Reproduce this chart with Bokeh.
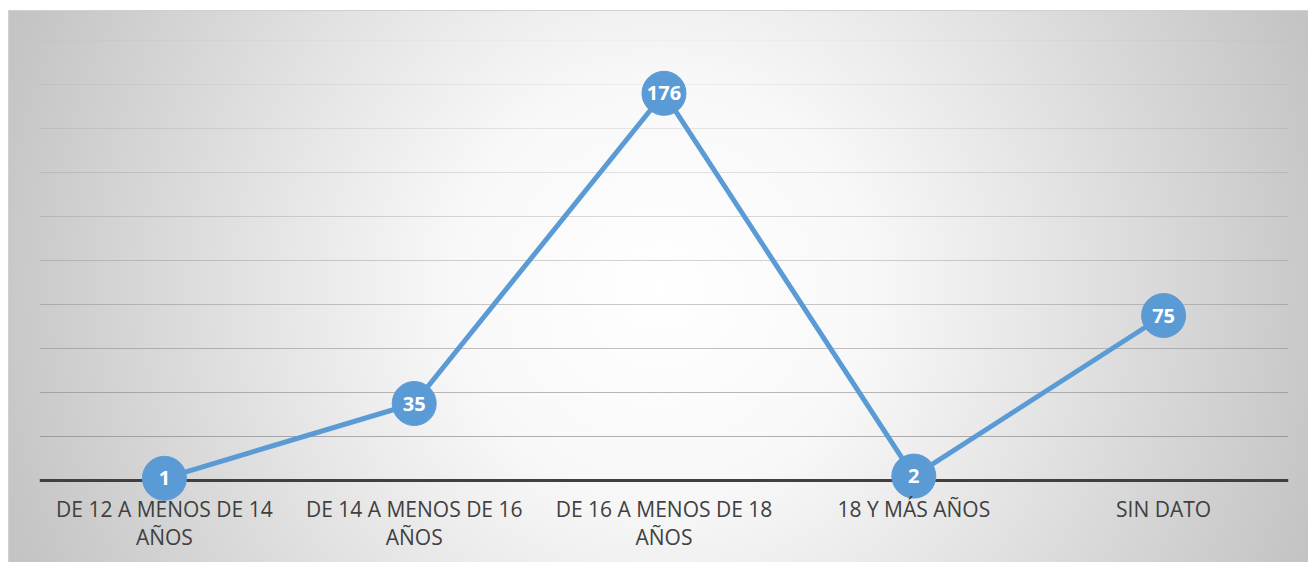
from bokeh.plotting import figure
from bokeh.models import FactorRange, Range1d, Span
from bokeh.core.properties import value
from bokeh.embed import file_html
from bokeh.resources import INLINE

# ---- data ----
categories = ["DE 12 A MENOS DE 14 AÑOS", "DE 14 A MENOS DE 16 AÑOS",
              "DE 16 A MENOS DE 18 AÑOS", "18 Y MÁS AÑOS", "SIN DATO"]
category_labels = ["DE 12 A MENOS DE 14\nAÑOS", "DE 14 A MENOS DE 16\nAÑOS",
                   "DE 16 A MENOS DE 18\nAÑOS", "18 Y MÁS AÑOS", "SIN DATO"]
counts = [1, 35, 176, 2, 75]
grid_ticks = [20, 40, 60, 80, 100, 120, 140, 160, 180, 200]
y_max = 200

# ---- layout constants (pixels) ----
W, H = 1308, 562
px_per_unit = 440 / y_max
top_px = 40      # space above top gridline
bottom_px = 82   # space below baseline

p = figure(
    width=W, height=H,
    x_range=FactorRange(factors=categories),
    y_range=Range1d(-bottom_px / px_per_unit, y_max + top_px / px_per_unit),
    x_axis_location=None, y_axis_location=None,
    output_backend="svg", toolbar_location=None,
    min_border_left=39, min_border_right=20, min_border_top=0, min_border_bottom=0,
)
p.border_fill_color = None
p.background_fill_color = None
p.outline_line_color = None
p.xgrid.visible = False
p.ygrid.visible = False
p.styles = {
    "background": (
        "linear-gradient(#d0d0d0, #d0d0d0) 8px 10px / 1300px 1px no-repeat, "
        "linear-gradient(#d0d0d0, #d0d0d0) 8px 10px / 1px 552px no-repeat, "
        "radial-gradient(circle 690px at 652px 278px, #ffffff 0%, #f8f8f8 30%, "
        "#e6e6e6 55%, #c4c4c4 100%) 8px 10px / 1300px 552px no-repeat #ffffff"
    ),
}

# gridlines, darker toward the bottom
for v in grid_ticks:
    alpha = 0.04 + 0.56 * (y_max - v) / (y_max - grid_ticks[0])
    p.add_layout(Span(location=v, dimension="width", line_color="#7f7f7f",
                      line_alpha=alpha, line_width=1, level="underlay"))
# baseline
p.add_layout(Span(location=0, dimension="width", line_color="#404040",
                  line_width=3, level="underlay"))

p.line(x=categories, y=counts, line_width=5, line_color="#5b9bd5")
p.scatter(x=categories, y=counts, size=44, fill_color="#5b9bd5", line_color="#5b9bd5")
p.text(x=categories, y=counts, text=[str(c) for c in counts],
       text_font=value("Open Sans"), text_font_size="20px", text_font_style="bold",
       text_color="white", text_align="center", text_baseline="middle")

# category labels beneath the baseline
p.text(x=categories, y=0, text=category_labels,
       text_font=value("Open Sans"), text_font_size="21px",
       text_color="#404040", text_align="center", text_baseline="top",
       y_offset=14, text_line_height=1.0)

open("out.html", "w").write(file_html(p, INLINE))
